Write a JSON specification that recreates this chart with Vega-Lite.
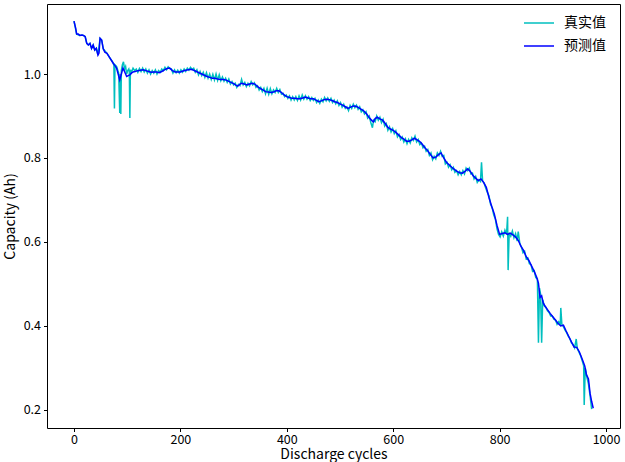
{
  "$schema": "https://vega.github.io/schema/vega-lite/v6.json",
  "width": 573,
  "height": 424,
  "autosize": "none",
  "padding": {"left": 47, "top": 4, "right": 5, "bottom": 34},
  "background": "white",
  "config": {
    "view": {"stroke": "#000000", "strokeWidth": 1},
    "font": "Noto Sans CJK SC",
    "axis": {
      "domain": false,
      "grid": false,
      "tickColor": "#000000",
      "tickSize": 3.5,
      "tickWidth": 1,
      "labelColor": "#000000",
      "labelFontSize": 12.5,
      "labelFont": "Noto Sans CJK SC",
      "labelPadding": 3,
      "titleColor": "#000000",
      "titleFont": "Noto Sans CJK SC",
      "titleFontSize": 14,
      "titleFontWeight": "normal"
    },
    "legend": {
      "labelFont": "Noto Sans CJK SC",
      "labelFontSize": 14,
      "labelColor": "#000000"
    }
  },
  "datasets": {
    "pred": [
      {"c":0,"v":1.126},{"c":3,"v":1.11},{"c":5,"v":1.095},{"c":8,"v":1.095},{"c":11,"v":1.092},{"c":15,"v":1.093},{"c":18,"v":1.092},{"c":21,"v":1.089},{"c":24,"v":1.073},{"c":27,"v":1.069},{"c":30,"v":1.073},{"c":33,"v":1.061},{"c":36,"v":1.069},{"c":39,"v":1.057},{"c":42,"v":1.061},{"c":45,"v":1.045},{"c":47,"v":1.05},{"c":49,"v":1.085},{"c":52,"v":1.081},{"c":55,"v":1.06},{"c":58,"v":1.052},{"c":62,"v":1.049},{"c":65,"v":1.043},{"c":68,"v":1.037},{"c":71,"v":1.031},{"c":74,"v":1.025},{"c":77,"v":1.02},{"c":80,"v":1.014},{"c":83,"v":1.0},{"c":86,"v":0.986},{"c":89,"v":1.0},{"c":92,"v":1.014},{"c":95,"v":1.006},{"c":99,"v":0.994},{"c":102,"v":0.996},{"c":105,"v":0.998},{"c":108,"v":1.002},{"c":111,"v":1.005},{"c":115,"v":1.006},{"c":120,"v":1.008},{"c":125,"v":1.009},{"c":130,"v":1.01},{"c":135,"v":1.008},{"c":140,"v":1.006},{"c":145,"v":1.004},{"c":150,"v":1.005},{"c":155,"v":1.005},{"c":160,"v":1.003},{"c":165,"v":1.006},{"c":170,"v":1.01},{"c":175,"v":1.013},{"c":180,"v":1.014},{"c":185,"v":1.008},{"c":190,"v":1.005},{"c":195,"v":1.005},{"c":200,"v":1.005},{"c":205,"v":1.007},{"c":210,"v":1.009},{"c":215,"v":1.01},{"c":220,"v":1.011},{"c":225,"v":1.009},{"c":230,"v":1.006},{"c":235,"v":1.003},{"c":240,"v":1.0},{"c":245,"v":0.997},{"c":250,"v":0.994},{"c":255,"v":0.992},{"c":260,"v":0.99},{"c":265,"v":0.99},{"c":270,"v":0.988},{"c":275,"v":0.987},{"c":280,"v":0.987},{"c":285,"v":0.986},{"c":290,"v":0.983},{"c":295,"v":0.98},{"c":300,"v":0.977},{"c":305,"v":0.973},{"c":308,"v":0.971},{"c":312,"v":0.976},{"c":315,"v":0.978},{"c":320,"v":0.976},{"c":325,"v":0.974},{"c":330,"v":0.976},{"c":335,"v":0.978},{"c":340,"v":0.976},{"c":345,"v":0.97},{"c":350,"v":0.966},{"c":355,"v":0.962},{"c":360,"v":0.958},{"c":365,"v":0.957},{"c":370,"v":0.956},{"c":375,"v":0.957},{"c":380,"v":0.96},{"c":385,"v":0.96},{"c":390,"v":0.956},{"c":395,"v":0.95},{"c":400,"v":0.946},{"c":405,"v":0.944},{"c":410,"v":0.942},{"c":415,"v":0.942},{"c":420,"v":0.941},{"c":425,"v":0.941},{"c":430,"v":0.943},{"c":435,"v":0.945},{"c":440,"v":0.943},{"c":445,"v":0.941},{"c":450,"v":0.941},{"c":455,"v":0.938},{"c":460,"v":0.934},{"c":465,"v":0.936},{"c":470,"v":0.939},{"c":475,"v":0.94},{"c":480,"v":0.939},{"c":485,"v":0.937},{"c":490,"v":0.934},{"c":495,"v":0.932},{"c":500,"v":0.929},{"c":505,"v":0.926},{"c":510,"v":0.922},{"c":515,"v":0.918},{"c":520,"v":0.921},{"c":525,"v":0.924},{"c":530,"v":0.923},{"c":535,"v":0.92},{"c":540,"v":0.916},{"c":545,"v":0.912},{"c":550,"v":0.905},{"c":555,"v":0.896},{"c":560,"v":0.889},{"c":563,"v":0.886},{"c":566,"v":0.894},{"c":570,"v":0.897},{"c":575,"v":0.893},{"c":580,"v":0.89},{"c":585,"v":0.882},{"c":590,"v":0.873},{"c":595,"v":0.869},{"c":600,"v":0.866},{"c":605,"v":0.861},{"c":610,"v":0.855},{"c":615,"v":0.849},{"c":620,"v":0.845},{"c":625,"v":0.84},{"c":630,"v":0.84},{"c":635,"v":0.843},{"c":640,"v":0.847},{"c":645,"v":0.843},{"c":650,"v":0.839},{"c":655,"v":0.832},{"c":660,"v":0.824},{"c":665,"v":0.817},{"c":670,"v":0.808},{"c":675,"v":0.8},{"c":680,"v":0.802},{"c":685,"v":0.808},{"c":690,"v":0.812},{"c":695,"v":0.8},{"c":700,"v":0.79},{"c":705,"v":0.784},{"c":710,"v":0.778},{"c":715,"v":0.773},{"c":720,"v":0.768},{"c":725,"v":0.765},{"c":730,"v":0.764},{"c":735,"v":0.768},{"c":740,"v":0.774},{"c":745,"v":0.768},{"c":750,"v":0.758},{"c":755,"v":0.752},{"c":760,"v":0.746},{"c":765,"v":0.75},{"c":770,"v":0.742},{"c":775,"v":0.73},{"c":780,"v":0.706},{"c":785,"v":0.685},{"c":790,"v":0.667},{"c":795,"v":0.64},{"c":800,"v":0.618},{"c":805,"v":0.62},{"c":810,"v":0.622},{"c":815,"v":0.618},{"c":820,"v":0.621},{"c":825,"v":0.617},{"c":830,"v":0.612},{"c":835,"v":0.604},{"c":840,"v":0.59},{"c":845,"v":0.58},{"c":850,"v":0.565},{"c":855,"v":0.556},{"c":860,"v":0.543},{"c":865,"v":0.53},{"c":870,"v":0.515},{"c":873,"v":0.502},{"c":876,"v":0.468},{"c":879,"v":0.472},{"c":882,"v":0.455},{"c":885,"v":0.448},{"c":890,"v":0.439},{"c":895,"v":0.43},{"c":900,"v":0.422},{"c":905,"v":0.414},{"c":910,"v":0.406},{"c":915,"v":0.4},{"c":920,"v":0.402},{"c":925,"v":0.388},{"c":930,"v":0.375},{"c":935,"v":0.362},{"c":940,"v":0.35},{"c":945,"v":0.349},{"c":950,"v":0.338},{"c":955,"v":0.322},{"c":960,"v":0.305},{"c":963,"v":0.285},{"c":967,"v":0.274},{"c":970,"v":0.24},{"c":973,"v":0.22},{"c":976,"v":0.204}
    ],
    "true": [
      {"c":0,"v":1.126},{"c":5,"v":1.095},{"c":11,"v":1.092},{"c":15,"v":1.093},{"c":21,"v":1.089},{"c":24,"v":1.073},{"c":27,"v":1.069},{"c":30,"v":1.073},{"c":33,"v":1.061},{"c":36,"v":1.069},{"c":39,"v":1.057},{"c":42,"v":1.061},{"c":45,"v":1.045},{"c":49,"v":1.085},{"c":52,"v":1.081},{"c":55,"v":1.06},{"c":62,"v":1.049},{"c":68,"v":1.037},{"c":72,"v":1.03},{"c":74,"v":1.025},{"c":75,"v":1.02},{"c":76,"v":0.918},{"c":77,"v":1.022},{"c":80,"v":1.018},{"c":82,"v":1.01},{"c":84,"v":1.002},{"c":86,"v":0.907},{"c":87,"v":1.0},{"c":88,"v":0.905},{"c":89,"v":1.008},{"c":91,"v":1.022},{"c":93,"v":1.029},{"c":95,"v":1.012},{"c":97,"v":1.018},{"c":99,"v":1.0},{"c":101,"v":1.008},{"c":103,"v":1.012},{"c":104,"v":1.005},{"c":105,"v":0.895},{"c":106,"v":1.01},{"c":108,"v":1.004},{"c":111,"v":1.014},{"c":114,"v":1.008},{"c":117,"v":1.012},{"c":120,"v":1.004},{"c":123,"v":1.013},{"c":126,"v":1.006},{"c":129,"v":1.014},{"c":132,"v":1.005},{"c":135,"v":1.012},{"c":138,"v":1.002},{"c":141,"v":1.01},{"c":144,"v":1.0},{"c":147,"v":1.008},{"c":150,"v":1.002},{"c":153,"v":1.01},{"c":156,"v":1.0},{"c":159,"v":1.008},{"c":162,"v":1.004},{"c":165,"v":1.012},{"c":168,"v":1.008},{"c":171,"v":1.016},{"c":174,"v":1.01},{"c":177,"v":1.017},{"c":180,"v":1.013},{"c":183,"v":1.012},{"c":186,"v":1.002},{"c":189,"v":1.01},{"c":192,"v":1.003},{"c":195,"v":1.009},{"c":198,"v":1.002},{"c":201,"v":1.01},{"c":204,"v":1.004},{"c":207,"v":1.012},{"c":210,"v":1.006},{"c":213,"v":1.014},{"c":216,"v":1.009},{"c":219,"v":1.016},{"c":222,"v":1.011},{"c":225,"v":1.014},{"c":228,"v":1.004},{"c":231,"v":1.01},{"c":234,"v":0.998},{"c":237,"v":1.006},{"c":240,"v":0.996},{"c":243,"v":1.004},{"c":246,"v":0.992},{"c":249,"v":1.003},{"c":252,"v":0.99},{"c":255,"v":1.0},{"c":258,"v":0.987},{"c":261,"v":0.999},{"c":264,"v":0.986},{"c":267,"v":1.0},{"c":270,"v":0.985},{"c":273,"v":0.998},{"c":276,"v":0.984},{"c":279,"v":0.993},{"c":282,"v":0.983},{"c":285,"v":0.99},{"c":288,"v":0.98},{"c":291,"v":0.988},{"c":294,"v":0.976},{"c":297,"v":0.982},{"c":300,"v":0.974},{"c":303,"v":0.978},{"c":306,"v":0.968},{"c":309,"v":0.975},{"c":312,"v":0.972},{"c":315,"v":0.987},{"c":318,"v":0.974},{"c":321,"v":0.98},{"c":324,"v":0.97},{"c":327,"v":0.978},{"c":330,"v":0.972},{"c":333,"v":0.982},{"c":336,"v":0.974},{"c":339,"v":0.979},{"c":342,"v":0.968},{"c":345,"v":0.972},{"c":348,"v":0.962},{"c":351,"v":0.968},{"c":354,"v":0.958},{"c":357,"v":0.966},{"c":360,"v":0.953},{"c":363,"v":0.966},{"c":366,"v":0.952},{"c":369,"v":0.965},{"c":372,"v":0.953},{"c":375,"v":0.962},{"c":378,"v":0.956},{"c":381,"v":0.966},{"c":384,"v":0.956},{"c":387,"v":0.963},{"c":390,"v":0.952},{"c":393,"v":0.954},{"c":396,"v":0.946},{"c":399,"v":0.95},{"c":402,"v":0.942},{"c":405,"v":0.948},{"c":408,"v":0.938},{"c":411,"v":0.946},{"c":414,"v":0.938},{"c":417,"v":0.946},{"c":420,"v":0.937},{"c":423,"v":0.948},{"c":426,"v":0.938},{"c":429,"v":0.95},{"c":432,"v":0.94},{"c":435,"v":0.948},{"c":438,"v":0.94},{"c":441,"v":0.946},{"c":444,"v":0.937},{"c":447,"v":0.944},{"c":450,"v":0.937},{"c":453,"v":0.942},{"c":456,"v":0.932},{"c":459,"v":0.938},{"c":462,"v":0.93},{"c":465,"v":0.94},{"c":468,"v":0.934},{"c":471,"v":0.944},{"c":474,"v":0.936},{"c":477,"v":0.943},{"c":480,"v":0.935},{"c":483,"v":0.942},{"c":486,"v":0.932},{"c":489,"v":0.938},{"c":492,"v":0.929},{"c":495,"v":0.936},{"c":498,"v":0.925},{"c":501,"v":0.932},{"c":504,"v":0.921},{"c":507,"v":0.928},{"c":510,"v":0.918},{"c":513,"v":0.922},{"c":516,"v":0.913},{"c":519,"v":0.925},{"c":522,"v":0.918},{"c":525,"v":0.928},{"c":528,"v":0.92},{"c":531,"v":0.926},{"c":534,"v":0.916},{"c":537,"v":0.922},{"c":540,"v":0.91},{"c":543,"v":0.915},{"c":546,"v":0.905},{"c":549,"v":0.91},{"c":552,"v":0.895},{"c":555,"v":0.9},{"c":558,"v":0.884},{"c":561,"v":0.872},{"c":563,"v":0.89},{"c":566,"v":0.886},{"c":569,"v":0.9},{"c":572,"v":0.89},{"c":575,"v":0.897},{"c":578,"v":0.884},{"c":581,"v":0.892},{"c":584,"v":0.876},{"c":587,"v":0.882},{"c":590,"v":0.866},{"c":593,"v":0.874},{"c":596,"v":0.862},{"c":599,"v":0.87},{"c":602,"v":0.858},{"c":605,"v":0.865},{"c":608,"v":0.85},{"c":611,"v":0.856},{"c":614,"v":0.844},{"c":617,"v":0.85},{"c":620,"v":0.838},{"c":623,"v":0.846},{"c":626,"v":0.834},{"c":629,"v":0.844},{"c":632,"v":0.836},{"c":635,"v":0.848},{"c":638,"v":0.842},{"c":641,"v":0.852},{"c":644,"v":0.838},{"c":647,"v":0.844},{"c":650,"v":0.832},{"c":653,"v":0.836},{"c":656,"v":0.824},{"c":659,"v":0.828},{"c":662,"v":0.816},{"c":665,"v":0.82},{"c":668,"v":0.806},{"c":671,"v":0.812},{"c":674,"v":0.796},{"c":677,"v":0.804},{"c":680,"v":0.798},{"c":683,"v":0.812},{"c":686,"v":0.806},{"c":689,"v":0.816},{"c":692,"v":0.804},{"c":695,"v":0.806},{"c":698,"v":0.786},{"c":701,"v":0.79},{"c":704,"v":0.778},{"c":707,"v":0.784},{"c":710,"v":0.772},{"c":713,"v":0.778},{"c":716,"v":0.766},{"c":719,"v":0.77},{"c":722,"v":0.76},{"c":725,"v":0.768},{"c":728,"v":0.76},{"c":731,"v":0.77},{"c":734,"v":0.762},{"c":737,"v":0.776},{"c":740,"v":0.77},{"c":743,"v":0.776},{"c":746,"v":0.762},{"c":749,"v":0.764},{"c":752,"v":0.75},{"c":755,"v":0.756},{"c":758,"v":0.742},{"c":761,"v":0.748},{"c":764,"v":0.744},{"c":766,"v":0.79},{"c":768,"v":0.745},{"c":771,"v":0.74},{"c":774,"v":0.728},{"c":777,"v":0.718},{"c":780,"v":0.71},{"c":783,"v":0.69},{"c":786,"v":0.682},{"c":789,"v":0.664},{"c":792,"v":0.655},{"c":795,"v":0.632},{"c":798,"v":0.618},{"c":801,"v":0.612},{"c":804,"v":0.624},{"c":807,"v":0.614},{"c":810,"v":0.628},{"c":813,"v":0.618},{"c":815,"v":0.66},{"c":816,"v":0.533},{"c":818,"v":0.622},{"c":821,"v":0.614},{"c":824,"v":0.626},{"c":827,"v":0.61},{"c":830,"v":0.62},{"c":833,"v":0.602},{"c":835,"v":0.625},{"c":838,"v":0.596},{"c":841,"v":0.588},{"c":844,"v":0.574},{"c":847,"v":0.578},{"c":850,"v":0.56},{"c":853,"v":0.562},{"c":856,"v":0.548},{"c":859,"v":0.546},{"c":862,"v":0.53},{"c":865,"v":0.532},{"c":868,"v":0.515},{"c":871,"v":0.512},{"c":873,"v":0.36},{"c":875,"v":0.49},{"c":877,"v":0.476},{"c":879,"v":0.36},{"c":881,"v":0.462},{"c":884,"v":0.448},{"c":887,"v":0.444},{"c":890,"v":0.436},{"c":893,"v":0.432},{"c":896,"v":0.424},{"c":899,"v":0.424},{"c":902,"v":0.416},{"c":905,"v":0.414},{"c":908,"v":0.404},{"c":911,"v":0.41},{"c":914,"v":0.404},{"c":915,"v":0.443},{"c":917,"v":0.404},{"c":920,"v":0.398},{"c":923,"v":0.39},{"c":926,"v":0.384},{"c":929,"v":0.376},{"c":932,"v":0.37},{"c":935,"v":0.36},{"c":938,"v":0.356},{"c":941,"v":0.348},{"c":944,"v":0.369},{"c":946,"v":0.346},{"c":949,"v":0.338},{"c":952,"v":0.33},{"c":955,"v":0.318},{"c":958,"v":0.305},{"c":959,"v":0.212},{"c":961,"v":0.3},{"c":964,"v":0.278},{"c":967,"v":0.262},{"c":970,"v":0.234},{"c":973,"v":0.202}
    ]
  },
  "encoding": {
    "x": {
      "field": "c",
      "type": "quantitative",
      "title": "Discharge cycles",
      "scale": {"domain": [-50.75, 1026.3], "nice": false, "zero": false},
      "axis": {"values": [0, 200, 400, 600, 800, 1000], "format": "d", "labelPadding": 12, "labelBaseline": "alphabetic", "titleBaseline": "alphabetic", "titleY": 30.5}
    },
    "y": {
      "field": "v",
      "type": "quantitative",
      "title": "Capacity (Ah)",
      "scale": {"domain": [0.157, 1.1667], "nice": false, "zero": false},
      "axis": {"values": [0.2, 0.4, 0.6, 0.8, 1.0], "format": ".1f", "titlePadding": 6}
    }
  },
  "layer": [
    {
      "data": {"name": "true"},
      "mark": {"type": "line", "strokeWidth": 1.5, "clip": true},
      "encoding": {
        "color": {
          "datum": "真实值",
          "type": "nominal",
          "scale": {"domain": ["真实值", "预测值"], "range": ["#00bfbf", "#0000ff"]},
          "legend": {
            "title": null,
            "orient": "none",
            "legendX": 476,
            "legendY": 3,
            "symbolType": "stroke",
            "symbolSize": 900,
            "symbolStrokeWidth": 1.5,
            "labelOffset": 9,
            "rowPadding": -12
          }
        }
      }
    },
    {
      "data": {"name": "pred"},
      "mark": {"type": "line", "strokeWidth": 1.5, "clip": true},
      "encoding": {
        "color": {"datum": "预测值", "type": "nominal"}
      }
    }
  ]
}
